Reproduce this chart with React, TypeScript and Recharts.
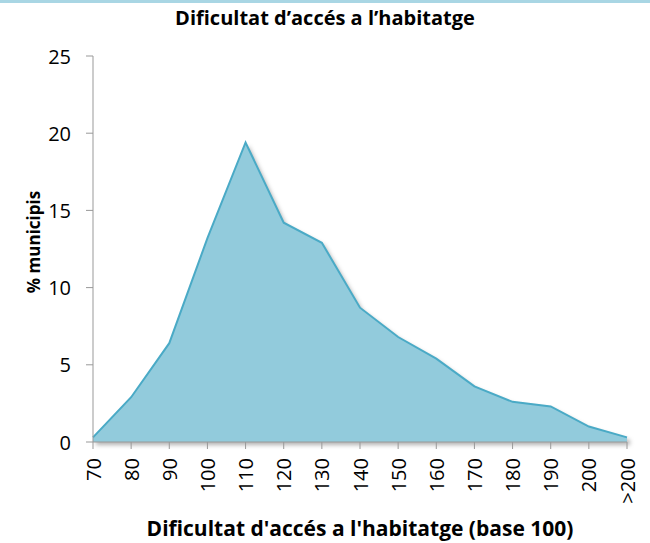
import { AreaChart, Area, XAxis, YAxis, Label } from "recharts";

const categories = ["70", "80", "90", "100", "110", "120", "130", "140", "150", "160", "170", "180", "190", "200", ">200"];
const municipis = [0.3, 2.9, 6.4, 13.2, 19.4, 14.2, 12.9, 8.7, 6.8, 5.4, 3.6, 2.6, 2.3, 1.0, 0.3];
const yTicks = [0, 5, 10, 15, 20, 25];

const data = categories.map((c, i) => ({ cat: c, value: municipis[i] }));

const FONT = "'Open Sans', 'Noto Sans', sans-serif";

function XTick(props: any) {
  const { x, y, payload } = props;
  return (
    <text
      x={x}
      y={y + 7}
      transform={`rotate(-90, ${x}, ${y + 7})`}
      textAnchor="end"
      dominantBaseline="central"
      fontSize={20}
      fontFamily={FONT}
      fill="#000"
    >
      {payload.value}
    </text>
  );
}

function YTick(props: any) {
  const { y, payload } = props;
  return (
    <text x={71} y={y} textAnchor="end" dominantBaseline="central" fontSize={20} fontFamily={FONT} fill="#000">
      {payload.value}
    </text>
  );
}

function YLabel() {
  return (
    <text
      x={33}
      y={242}
      transform="rotate(-90, 33, 242)"
      textAnchor="middle"
      dominantBaseline="central"
      fontSize={17}
      fontWeight={700}
      fontFamily={FONT}
      fill="#000"
    >
      % municipis
    </text>
  );
}

export default function App() {
  return (
    <div style={{ position: "absolute", left: 0, top: 0, width: 650, height: 543, background: "#fff", fontFamily: FONT }}>
      <style>{`.recharts-area-area { filter: drop-shadow(3px 3px 2px rgba(0,0,0,0.3)); }`}</style>
      <div style={{ position: "absolute", left: 0, top: 0, width: 650, height: 3, background: "#a9d6e4" }} />
      <div
        style={{
          position: "absolute",
          left: 0,
          top: 4,
          width: 650,
          textAlign: "center",
          fontSize: 20,
          fontWeight: 700,
          color: "#000",
        }}
      >
        Dificultat d’accés a l’habitatge
      </div>
      <AreaChart
        width={650}
        height={543}
        data={data}
        margin={{ top: 56, right: 23, bottom: 0, left: 0 }}
      >
        <XAxis
          dataKey="cat"
          interval={0}
          tick={<XTick />}
          tickLine={{ stroke: "#999" }}
          axisLine={{ stroke: "#999" }}
          tickSize={7}
          height={101}
          label={{
            value: "Dificultat d'accés a l'habitatge (base 100)",
            position: "insideBottom",
            offset: 7,
            style: { fontSize: 21, fontWeight: 700, fill: "#000", fontFamily: FONT },
          }}
        />
        <YAxis
          domain={[0, 25]}
          ticks={yTicks}
          width={93}
          tickSize={7}
          tickLine={{ stroke: "#999" }}
          axisLine={{ stroke: "#999" }}
          tick={<YTick />}
        >
          <Label content={<YLabel />} />
        </YAxis>
        <Area
          type="linear"
          dataKey="value"
          stroke="#4aaac6"
          strokeWidth={2}
          fill="#92cbdc"
          fillOpacity={1}
          isAnimationActive={false}
          dot={false}
          activeDot={false}
        />
      </AreaChart>
    </div>
  );
}
